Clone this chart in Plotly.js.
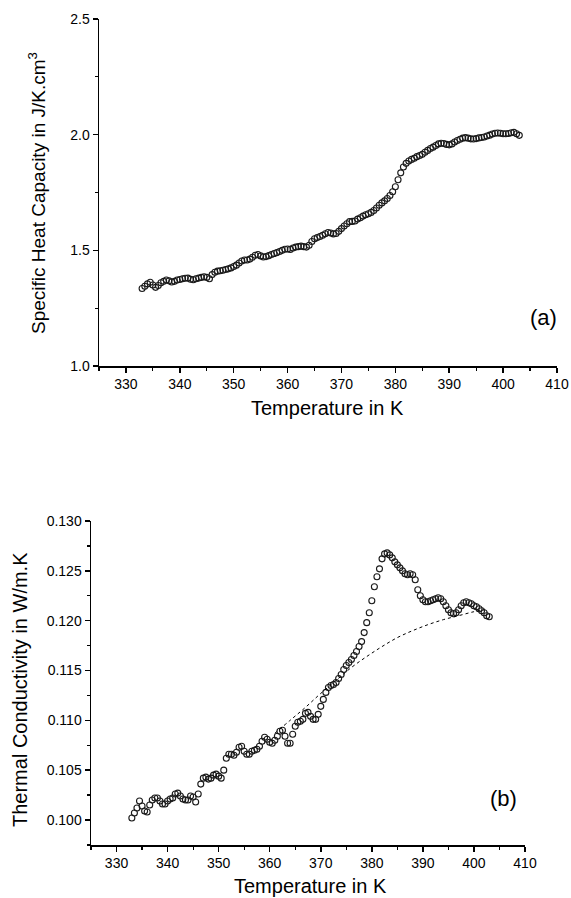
<!DOCTYPE html>
<html>
<head>
<meta charset="utf-8">
<script src="https://cdn.plot.ly/plotly-3.0.1.min.js"></script>
<style>
  html, body { margin: 0; padding: 0; background: #fff; }
  #chart { width: 571px; height: 898px; }
</style>
</head>
<body>
<div id="chart"></div>
<script>
// Panel (a): specific heat capacity vs temperature
const tempA = [333.0,333.5,334.0,334.5,335.0,335.5,336.0,336.5,337.0,337.5,338.0,338.5,339.0,339.5,340.0,340.5,341.0,341.5,342.0,342.5,343.0,343.5,344.0,344.5,345.0,345.5,346.0,346.5,347.0,347.5,348.0,348.5,349.0,349.5,350.0,350.5,351.0,351.5,352.0,352.5,353.0,353.5,354.0,354.5,355.0,355.5,356.0,356.5,357.0,357.5,358.0,358.5,359.0,359.5,360.0,360.5,361.0,361.5,362.0,362.5,363.0,363.5,364.0,364.5,365.0,365.5,366.0,366.5,367.0,367.5,368.0,368.5,369.0,369.5,370.0,370.5,371.0,371.5,372.0,372.5,373.0,373.5,374.0,374.5,375.0,375.5,376.0,376.5,377.0,377.5,378.0,378.5,379.0,379.5,380.0,380.5,381.0,381.5,382.0,382.5,383.0,383.5,384.0,384.5,385.0,385.5,386.0,386.5,387.0,387.5,388.0,388.5,389.0,389.5,390.0,390.5,391.0,391.5,392.0,392.5,393.0,393.5,394.0,394.5,395.0,395.5,396.0,396.5,397.0,397.5,398.0,398.5,399.0,399.5,400.0,400.5,401.0,401.5,402.0,402.5,403.0];
const heatCap = [1.335,1.345,1.355,1.362,1.350,1.340,1.348,1.360,1.366,1.372,1.368,1.363,1.366,1.372,1.374,1.377,1.379,1.380,1.375,1.373,1.377,1.380,1.383,1.386,1.383,1.377,1.395,1.405,1.410,1.412,1.414,1.417,1.420,1.424,1.430,1.436,1.445,1.454,1.458,1.458,1.462,1.470,1.479,1.482,1.476,1.471,1.473,1.477,1.482,1.486,1.490,1.495,1.500,1.505,1.506,1.504,1.510,1.514,1.516,1.518,1.516,1.514,1.522,1.538,1.550,1.555,1.560,1.565,1.572,1.577,1.575,1.571,1.573,1.582,1.594,1.605,1.615,1.624,1.625,1.627,1.635,1.641,1.648,1.654,1.658,1.664,1.672,1.683,1.695,1.705,1.714,1.724,1.737,1.753,1.775,1.805,1.835,1.860,1.876,1.886,1.893,1.898,1.905,1.910,1.915,1.924,1.932,1.940,1.946,1.953,1.960,1.963,1.962,1.958,1.956,1.960,1.968,1.975,1.980,1.985,1.987,1.985,1.982,1.981,1.983,1.986,1.988,1.990,1.994,1.998,2.003,2.006,2.007,2.006,2.004,2.004,2.005,2.008,2.010,2.004,1.997];

// Panel (b): thermal conductivity vs temperature
const tempB = [333.0,333.5,334.0,334.5,335.0,335.5,336.0,336.5,337.0,337.5,338.0,338.5,339.0,339.5,340.0,340.5,341.0,341.5,342.0,342.5,343.0,343.5,344.0,344.5,345.0,345.5,346.0,346.5,347.0,347.5,348.0,348.5,349.0,349.5,350.0,350.5,351.0,351.5,352.0,352.5,353.0,353.5,354.0,354.5,355.0,355.5,356.0,356.5,357.0,357.5,358.0,358.5,359.0,359.5,360.0,360.5,361.0,361.5,362.0,362.5,363.0,363.5,364.0,364.5,365.0,365.5,366.0,366.5,367.0,367.5,368.0,368.5,369.0,369.5,370.0,370.5,371.0,371.5,372.0,372.5,373.0,373.5,374.0,374.5,375.0,375.5,376.0,376.5,377.0,377.5,378.0,378.5,379.0,379.5,380.0,380.5,381.0,381.5,382.0,382.5,383.0,383.5,384.0,384.5,385.0,385.5,386.0,386.5,387.0,387.5,388.0,388.5,389.0,389.5,390.0,390.5,391.0,391.5,392.0,392.5,393.0,393.5,394.0,394.5,395.0,395.5,396.0,396.5,397.0,397.5,398.0,398.5,399.0,399.5,400.0,400.5,401.0,401.5,402.0,402.5,403.0];
const thermCond = [0.1002,0.1007,0.1012,0.1019,0.1014,0.1009,0.1008,0.1015,0.1020,0.1022,0.1022,0.1019,0.1016,0.1016,0.1019,0.1021,0.1022,0.1026,0.1027,0.1024,0.1021,0.1020,0.1020,0.1024,0.1023,0.1018,0.1026,0.1036,0.1042,0.1043,0.1041,0.1042,0.1045,0.1046,0.1044,0.1042,0.1050,0.1062,0.1066,0.1066,0.1065,0.1068,0.1073,0.1074,0.1069,0.1066,0.1066,0.1069,0.1070,0.1071,0.1074,0.1079,0.1083,0.1081,0.1078,0.1077,0.1080,0.1084,0.1089,0.1090,0.1084,0.1077,0.1077,0.1086,0.1094,0.1098,0.1099,0.1101,0.1107,0.1108,0.1104,0.1101,0.1101,0.1106,0.1114,0.1121,0.1128,0.1133,0.1135,0.1136,0.1138,0.1142,0.1146,0.1151,0.1155,0.1158,0.1161,0.1165,0.1169,0.1174,0.1179,0.1188,0.1198,0.1208,0.1220,0.1234,0.1244,0.1252,0.1262,0.1267,0.1268,0.1266,0.1263,0.1259,0.1256,0.1253,0.1250,0.1247,0.1246,0.1247,0.1246,0.1241,0.1231,0.1225,0.1221,0.1219,0.1219,0.1220,0.1221,0.1222,0.1223,0.1222,0.1219,0.1215,0.1211,0.1208,0.1207,0.1208,0.1211,0.1215,0.1218,0.1219,0.1218,0.1217,0.1215,0.1214,0.1212,0.1210,0.1208,0.1205,0.1204];

// Panel (b): dotted baseline
const baseT = [361,364,367,370,373,376,379,382,385,388,391,394,397,400,402];
const baseK = [0.1087,0.1100,0.1113,0.1127,0.1140,0.1153,0.1164,0.1174,0.1183,0.1190,0.1196,0.1201,0.1205,0.1209,0.1211];

const xTitle = "Temperature in K";
const yTitleA = "Specific Heat Capacity in J/K.cm<sup>3</sup>";
const yTitleB = "Thermal Conductivity in W/m.K";

const FONT = "Liberation Sans, Arial, sans-serif";
const W = 571, H = 898;
const px = v => v / W;
const py = v => (H - v) / H;

const markerStyle = {symbol: "circle-open", size: 6, color: "#1a1a1a", line: {width: 1.1, color: "#1a1a1a"}};

const traces = [
  {x: tempA, y: heatCap, xaxis: "x", yaxis: "y", mode: "markers", type: "scatter",
   marker: markerStyle, showlegend: false},
  {x: tempB, y: thermCond, xaxis: "x2", yaxis: "y2", mode: "markers", type: "scatter",
   marker: markerStyle, showlegend: false},
  {x: baseT, y: baseK, xaxis: "x2", yaxis: "y2", mode: "lines", type: "scatter",
   line: {color: "#000", width: 1, dash: "dot", shape: "spline"}, showlegend: false}
];

function xAxisCfg(domain, anchor) {
  return {
    domain: domain, anchor: anchor, range: [325, 410], dtick: 10, tick0: 0,
    showline: true, linecolor: "#000", linewidth: 1.5,
    ticks: "outside", ticklen: 5, tickwidth: 1.5, tickcolor: "#000",
    minor: {dtick: 5, tick0: 0, ticks: "outside", ticklen: 3, tickwidth: 1.2, tickcolor: "#000"},
    showgrid: false, zeroline: false, automargin: false,
    tickfont: {family: FONT, size: 14, color: "#000"}
  };
}
function yAxisCfg(domain, anchor, range, dtick, fmt) {
  return {
    domain: domain, anchor: anchor, range: range, dtick: dtick, tick0: 0, tickformat: fmt,
    showline: true, linecolor: "#000", linewidth: 1.5,
    ticks: "outside", ticklen: 5, tickwidth: 1.5, tickcolor: "#000",
    minor: {dtick: dtick / 2, tick0: 0, ticks: "outside", ticklen: 3, tickwidth: 1.2, tickcolor: "#000"},
    showgrid: false, zeroline: false, automargin: false,
    tickfont: {family: FONT, size: 14, color: "#000"}
  };
}

const layout = {
  width: W, height: H,
  margin: {l: 0, r: 0, t: 0, b: 0},
  paper_bgcolor: "#fff", plot_bgcolor: "#fff",
  font: {family: FONT, color: "#000"},
  xaxis: xAxisCfg([px(99), px(557)], "y"),
  yaxis: yAxisCfg([py(366), py(19)], "x", [1.0, 2.5], 0.5, ".1f"),
  xaxis2: xAxisCfg([px(91), px(525)], "y2"),
  yaxis2: yAxisCfg([py(845), py(521)], "x2", [0.09749, 0.1300], 0.005, ".3f"),
  annotations: [
    {text: xTitle, xref: "paper", yref: "paper", x: px(328), y: py(408), xanchor: "center", yanchor: "middle",
     showarrow: false, font: {family: FONT, size: 20, color: "#000"}},
    {text: xTitle, xref: "paper", yref: "paper", x: px(310), y: py(886), xanchor: "center", yanchor: "middle",
     showarrow: false, font: {family: FONT, size: 20, color: "#000"}},
    {text: yTitleA, xref: "paper", yref: "paper", x: px(37), y: py(193), xanchor: "center", yanchor: "middle",
     textangle: -90, showarrow: false, font: {family: FONT, size: 19, color: "#000"}},
    {text: yTitleB, xref: "paper", yref: "paper", x: px(20), y: py(690), xanchor: "center", yanchor: "middle",
     textangle: -90, showarrow: false, font: {family: FONT, size: 20, color: "#000"}},
    {text: "(a)", xref: "x", yref: "y", x: 407.5, y: 1.21, xanchor: "center", yanchor: "middle",
     showarrow: false, font: {family: FONT, size: 22, color: "#000"}},
    {text: "(b)", xref: "x2", yref: "y2", x: 405.8, y: 0.1022, xanchor: "center", yanchor: "middle",
     showarrow: false, font: {family: FONT, size: 22, color: "#000"}}
  ]
};

Plotly.newPlot("chart", traces, layout, {displayModeBar: false, staticPlot: true});
</script>
</body>
</html>
